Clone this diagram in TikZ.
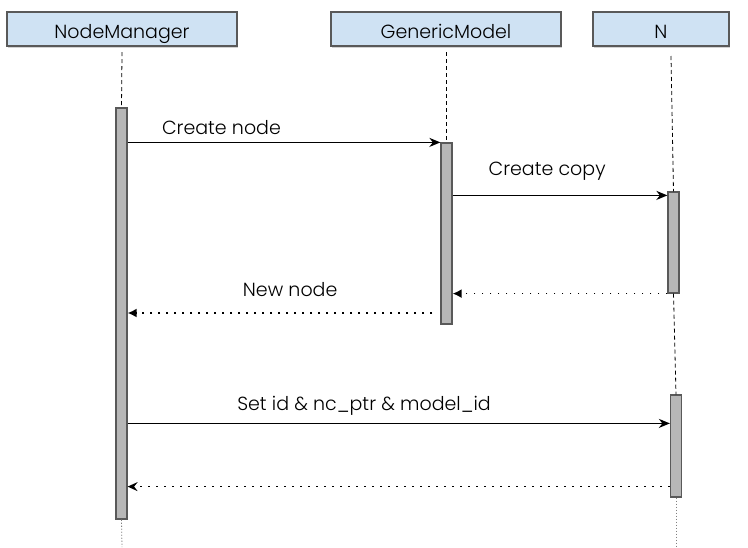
\documentclass[tikz,border=0pt]{standalone}
\usepackage{fontspec}
\setmainfont{Poppins}[UprightFont=* Light]
\usetikzlibrary{arrows.meta,shadows}
\definecolor{headblue}{HTML}{CFE2F3}
\definecolor{bargray}{HTML}{B7B7B7}
\definecolor{edgegray}{HTML}{595959}

\begin{document}
\begin{tikzpicture}[x=1pt,y=-1pt,
    head/.style={draw=edgegray, line width=1.4pt, fill=headblue, minimum height=34pt, inner sep=0pt,
      text height=18pt, text depth=0pt,
      font=\fontsize{19}{22}\selectfont, drop shadow={shadow xshift=1pt, shadow yshift=-2pt, opacity=.35}},
    bar/.style={draw=edgegray, fill=bargray, line width=1.2pt, minimum width=11pt, inner sep=0pt},
    life/.style={black, dash pattern=on 4pt off 3pt, line width=.8pt},
    lifeend/.style={gray, dash pattern=on 1.2pt off 1.8pt, line width=.8pt},
    call/.style={line width=1.7pt, -{Stealth[length=11pt, width=9pt, inset=3.5pt]}},
    reply/.style={line width=1.7pt, dash pattern=on 1.7pt off 6.3pt, -{Latex[length=9pt, width=9pt]}},
    msg/.style={font=\fontsize{19}{22}\selectfont, anchor=base}]
    \useasboundingbox (0,0) rectangle (748,547);

    % participants
    \node[head, minimum width=230pt] (nm) at (122,29) {NodeManager};
    \node[head, minimum width=230pt] (gm) at (446,29) {GenericModel};
    \node[head, minimum width=136pt] (n) at (661,29) {N};

    % activations
    \node[bar, minimum height=411pt] (nmbar) at (121.5,313.5) {};
    \node[bar, minimum height=181pt] (gmbar) at (446.5,233.5) {};
    \node[bar, minimum height=101pt] (nbarA) at (673.5,242.5) {};
    \node[bar, minimum height=102pt] (nbarB) at (676,446) {};

    % lifelines
    \coordinate (nmtop) at (122,52);
    \coordinate (gmtop) at (446.5,52);
    \coordinate (ntop) at (671,56);
    \coordinate (nmend) at (122,547);
    \coordinate (nend) at (676,547);
    \draw[life] (nmtop) -- (nmbar.north);
    \draw[life] (gmtop) -- (gmbar.north);
    \draw[life] (ntop) -- (nbarA.north);
    \draw[life] (nbarA.south) -- (nbarB.north);
    \draw[lifeend] (nmbar.south) -- (nmend);
    \draw[lifeend] (nbarB.south) -- (nend);

    % message ends
    \coordinate (copyto) at ([yshift=-4pt]nbarA.north west);
    \coordinate (nnfrom) at (432,313);
    \coordinate (setto) at ([yshift=-29pt]nbarB.north west);
    \coordinate (backfrom) at ([yshift=11pt]nbarB.south west);

    % messages
    \draw[call] (nmbar.east |- gmbar.north) -- (gmbar.north west)
      node[msg, yshift=8pt, pos=.3] {Create node};
    \draw[call] (gmbar.east |- copyto) -- (copyto)
      node[msg, yshift=20pt, pos=.44] {Create copy};
    \draw[reply] (nbarA.south west) -- (gmbar.east |- nbarA.south);
    \draw[reply] (nnfrom) -- (nmbar.east |- nnfrom)
      node[msg, yshift=17pt, pos=.466] {New node};
    \draw[call] (nmbar.east |- setto) -- (setto)
      node[msg, yshift=13pt, pos=.436] {Set id \& nc\_ptr \& model\_id};
    \draw[reply, -{Stealth[length=10pt, width=9pt, inset=3.5pt]}] (backfrom) -- (nmbar.east |- backfrom);

\end{tikzpicture}
\end{document}
